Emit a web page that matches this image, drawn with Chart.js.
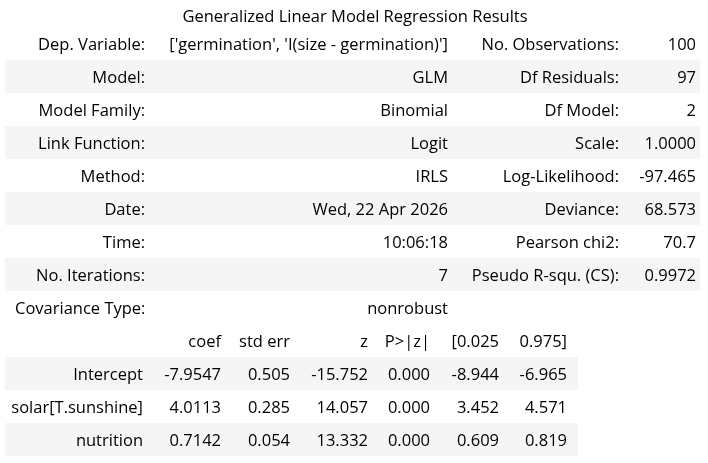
<!DOCTYPE html>
<html>
<head>
<meta charset="utf-8">
<script src="https://cdn.jsdelivr.net/npm/chart.js@4.4.0/dist/chart.umd.min.js"></script>
<style>
    html, body { margin: 0; padding: 0; background: #fff; }
</style>
</head>
<body>
<canvas id="resumenGLM" width="708" height="463"></canvas>
<script>
// DATOS DEL RESUMEN
const titulo = 'Generalized Linear Model Regression Results';

const etiquetasIzq = ['Dep. Variable:', 'Model:', 'Model Family:', 'Link Function:', 'Method:', 'Date:', 'Time:', 'No. Iterations:', 'Covariance Type:'];
const valoresIzq = ["['germination', 'I(size - germination)']", 'GLM', 'Binomial', 'Logit', 'IRLS', 'Wed, 22 Apr 2026', '10:06:18', '7', 'nonrobust'];
const etiquetasDer = ['No. Observations:', 'Df Residuals:', 'Df Model:', 'Scale:', 'Log-Likelihood:', 'Deviance:', 'Pearson chi2:', 'Pseudo R-squ. (CS):', ''];
const valoresDer = ['100', '97', '2', '1.0000', '-97.465', '68.573', '70.7', '0.9972', ''];

const columnas = ['coef', 'std err', 'z', 'P>|z|', '[0.025', '0.975]'];
const variables = ['Intercept', 'solar[T.sunshine]', 'nutrition'];
const coef = ['-7.9547', '4.0113', '0.7142'];
const stdErr = ['0.505', '0.285', '0.054'];
const zValor = ['-15.752', '14.057', '13.332'];
const pValor = ['0.000', '0.000', '0.000'];
const ciInf = ['-8.944', '3.452', '0.609'];
const ciSup = ['-6.965', '4.571', '0.819'];

// filas: 9 de la cabecera + fila de columnas + variables
const filas = etiquetasIzq.concat(['cabecera'], variables);
const fuente = '16.5px "Open Sans", "Noto Sans", sans-serif';

// Dibuja la tabla sobre las escalas de Chart.js
const pluginTabla = {
    id: 'tabla',
    afterDraw(chart) {
        const ctx = chart.ctx;
        const x = chart.scales.x;
        const y = chart.scales.y;
        const alto = y.getPixelForValue(1) - y.getPixelForValue(0);

        const texto = (t, xv, fila, alin) => {
            ctx.textAlign = alin || 'right';
            ctx.fillText(t, x.getPixelForValue(xv), y.getPixelForValue(fila) + 1.5);
        };

        ctx.save();
        // bandas grises
        ctx.fillStyle = '#f5f5f5';
        filas.forEach((f, i) => {
            if ((i < 8 && i % 2 === 1) || i === 10 || i === 12) {
                const fin = i < 8 ? 700 : 578;
                ctx.fillRect(x.getPixelForValue(5), y.getPixelForValue(i) - alto / 2, x.getPixelForValue(fin) - x.getPixelForValue(5), alto);
            }
        });

        ctx.fillStyle = '#000';
        ctx.font = fuente;
        ctx.textBaseline = 'middle';

        // titulo
        ctx.textAlign = 'center';
        ctx.fillText(titulo, x.getPixelForValue(355), 17);

        // primera tabla
        etiquetasIzq.forEach((t, i) => {
            if (i === 8) texto(t, 15, i, 'left');
            else texto(t, 145, i);
            texto(valoresIzq[i], 448, i);
            texto(etiquetasDer[i], 619, i);
            texto(valoresDer[i], 696, i);
        });

        // segunda tabla
        const bordes = [221, 290, 368, 430, 499, 567];
        columnas.forEach((c, j) => texto(c, bordes[j], 9));
        variables.forEach((v, k) => {
            const fila = 10 + k;
            texto(v, 143, fila);
            [coef, stdErr, zValor, pValor, ciInf, ciSup].forEach((serie, j) => {
                texto(serie[k], bordes[j], fila);
            });
        });
        ctx.restore();
    }
};

document.addEventListener('DOMContentLoaded', () => {
    new Chart(document.getElementById('resumenGLM'), {
        type: 'bar',
        data: {
            labels: filas,
            datasets: [{label: 'resumen', data: filas.map(() => null)}],
        },
        options: {
            responsive: false,
            animation: false,
            indexAxis: 'y',
            layout: {padding: {top: 27, bottom: 7, left: 0, right: 0}},
            plugins: {legend: {display: false}, tooltip: {enabled: false}},
            scales: {
                x: {type: 'linear', min: 0, max: 708, display: false},
                y: {type: 'category', display: false, offset: true},
            },
        },
        plugins: [pluginTabla],
    });
});
</script>
</body>
</html>
